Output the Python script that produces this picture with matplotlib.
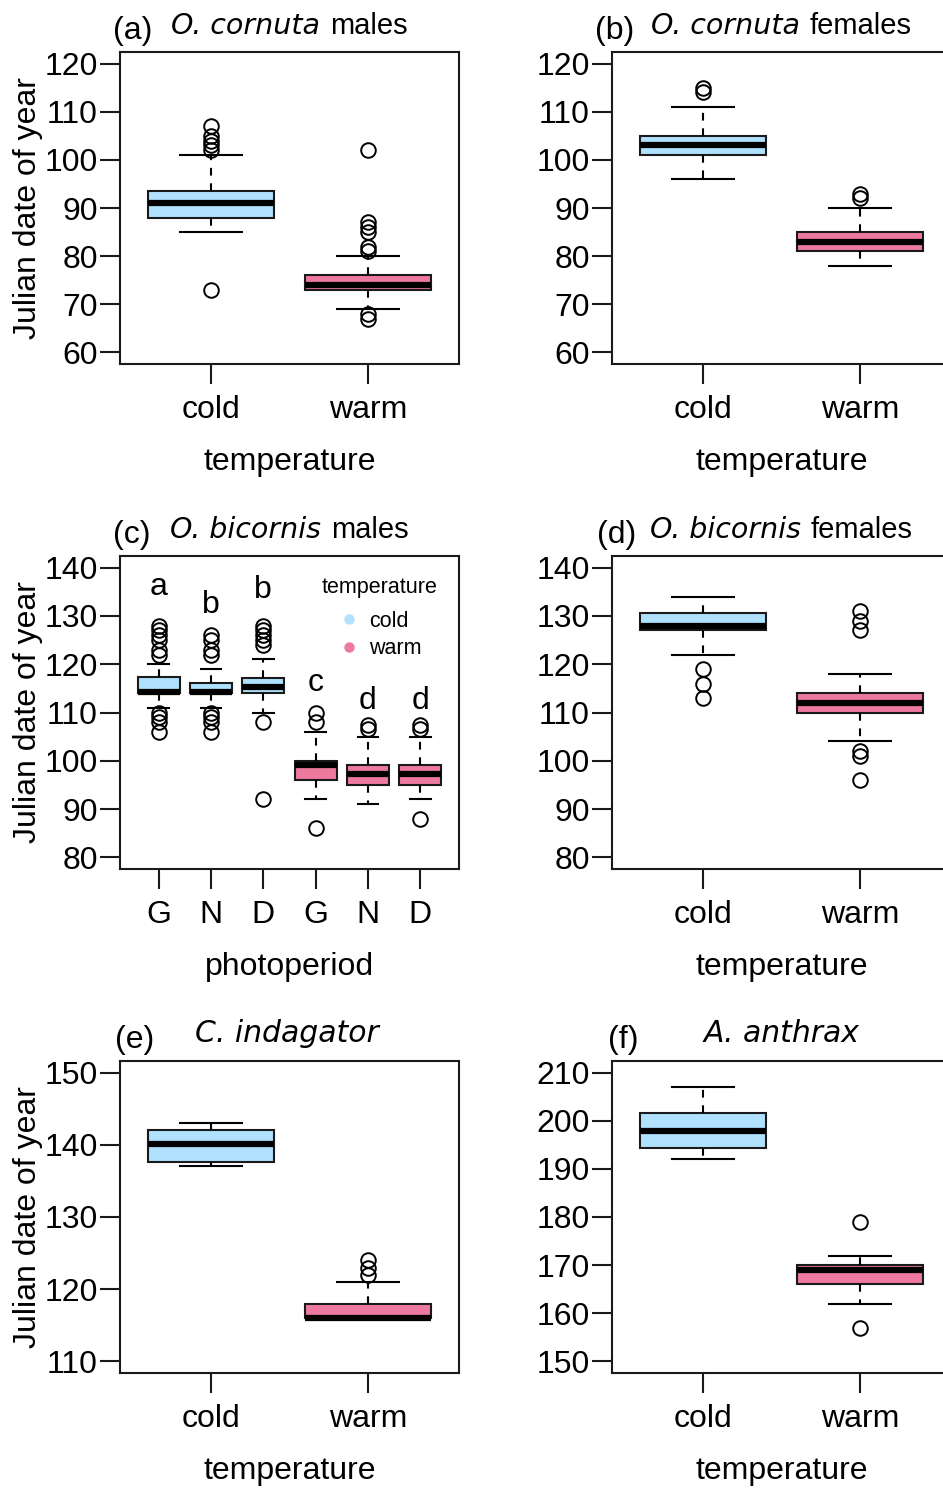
import matplotlib
matplotlib.use("Agg")
import matplotlib.pyplot as plt
from matplotlib.lines import Line2D

plt.rcParams['font.family'] = ['Liberation Sans', 'DejaVu Sans']

# ---------------- data ----------------
temp_labels = ["cold", "warm"]
photo_labels = ["G", "N", "D", "G", "N", "D"]

# (a) O. cornuta males
a_q1 = [88, 73];      a_med = [91, 74];      a_q3 = [93.5, 76]
a_lo = [85, 69];      a_hi = [101, 80]
a_fliers = [[107, 105, 104, 103, 102, 73], [102, 87, 86, 85, 82, 81, 68, 67]]

# (b) O. cornuta females
b_q1 = [101, 81];     b_med = [103, 83];     b_q3 = [105, 85]
b_lo = [96, 78];      b_hi = [111, 90]
b_fliers = [[115, 114], [93, 92]]

# (c) O. bicornis males, by photoperiod (3 cold then 3 warm)
c_q1 = [114, 114, 114, 96, 95, 95]
c_med = [114.3, 114.3, 115.2, 99.2, 97.2, 97.2]
c_q3 = [117.3, 116.1, 117.2, 100, 99.1, 99.1]
c_lo = [111, 111, 110, 92, 91, 92]
c_hi = [120, 119, 121, 106, 105, 105]
c_fliers = [[128, 127, 126, 125, 123, 122, 110, 109, 108, 106],
            [126, 125, 123, 122, 110, 109, 108, 106],
            [128, 127, 126, 125, 124, 108, 92],
            [110, 108, 86],
            [107.5, 106.5],
            [107.5, 106.5, 88]]
c_letters = ["a", "b", "b", "c", "d", "d"]
c_letter_y = [134.4, 130.6, 133.7, 114.4, 110.8, 110.8]
c_groups = ["cold", "cold", "cold", "warm", "warm", "warm"]

# (d) O. bicornis females
d_q1 = [127, 110];    d_med = [128, 112];    d_q3 = [130.5, 114]
d_lo = [122, 104];    d_hi = [134, 118]
d_fliers = [[119, 116, 113], [131, 129, 127, 102, 101, 96]]

# (e) C. indagator
e_q1 = [137.6, 116];  e_med = [140.1, 116];  e_q3 = [142.1, 118]
e_lo = [137, 116];    e_hi = [143, 121]
e_fliers = [[], [124, 123, 122]]

# (f) A. anthrax
f_q1 = [194.3, 166];  f_med = [197.9, 169];  f_q3 = [201.5, 170]
f_lo = [192, 162];    f_hi = [207, 172]
f_fliers = [[], [179, 157]]

COLORS = {"cold": "#B0E2FF", "warm": "#EE799F"}

# ---------------- layout ----------------
W, H = 943, 1488
DPI = 100
fig = plt.figure(figsize=(W / DPI, H / DPI), dpi=DPI)
fig.patch.set_facecolor("white")


def rect(left, top, right, bottom):
    return [left / W, 1 - bottom / H, (right - left) / W, (bottom - top) / H]


TICK_FS = 23
LAB_FS = 23


def make_stats(q1, med, q3, lo, hi, fl):
    return [dict(q1=q1[i], med=med[i], q3=q3[i], whislo=lo[i], whishi=hi[i],
                 fliers=fl[i]) for i in range(len(q1))]


def panel(r, stats, groups, xt_labels, ylim, yticks, xlabel, ylabel):
    ax = fig.add_axes(r)
    n = len(stats)
    pos = list(range(1, n + 1))
    bp = ax.bxp(stats, positions=pos, widths=0.8, capwidths=0.4,
                patch_artist=True, showfliers=True,
                boxprops=dict(linewidth=1.5, edgecolor="#1a1a1a"),
                medianprops=dict(color="black", linewidth=4.5, solid_capstyle="butt"),
                whiskerprops=dict(linestyle=(0, (3.7, 3.7)), linewidth=1.5, color="black"),
                capprops=dict(linewidth=1.5, color="black"),
                flierprops=dict(marker="o", markerfacecolor="none",
                                markeredgecolor="black", markersize=10.5,
                                markeredgewidth=1.4, linestyle="none"))
    for patch, g in zip(bp["boxes"], groups):
        patch.set_facecolor(COLORS[g])
    ext = 0.04 * n
    ax.set_xlim(0.5 - ext, n + 0.5 + ext)
    rng = ylim[1] - ylim[0]
    ax.set_ylim(ylim[0] - 0.04 * rng, ylim[1] + 0.04 * rng)
    ax.set_yticks(yticks)
    ax.set_xticks(pos)
    ax.set_xticklabels(xt_labels)
    for s in ax.spines.values():
        s.set_linewidth(1.5)
        s.set_color("#1a1a1a")
    ax.tick_params(axis="both", length=14.5, width=1.5, labelsize=TICK_FS,
                   direction="out", color="#1a1a1a")
    ax.tick_params(axis="y", pad=1.5)
    ax.tick_params(axis="x", pad=7.5)
    ax.set_xlabel(xlabel, fontsize=LAB_FS, labelpad=16)
    if ylabel:
        ax.set_ylabel(ylabel, fontsize=LAB_FS, labelpad=1)
    return ax


YL = "Julian date of year"
L = (120, 459)
R = (612, 951)
rows = [(52, 364), (556, 869), (1061, 1373)]

axa = panel(rect(L[0], rows[0][0], L[1], rows[0][1]),
            make_stats(a_q1, a_med, a_q3, a_lo, a_hi, a_fliers), temp_labels,
            temp_labels, (60, 120), range(60, 121, 10), "temperature", YL)
axb = panel(rect(R[0], rows[0][0], R[1], rows[0][1]),
            make_stats(b_q1, b_med, b_q3, b_lo, b_hi, b_fliers), temp_labels,
            temp_labels, (60, 120), range(60, 121, 10), "temperature", None)
axc = panel(rect(L[0], rows[1][0], L[1], rows[1][1]),
            make_stats(c_q1, c_med, c_q3, c_lo, c_hi, c_fliers), c_groups,
            photo_labels, (80, 140), range(80, 141, 10), "photoperiod", YL)
axd = panel(rect(R[0], rows[1][0], R[1], rows[1][1]),
            make_stats(d_q1, d_med, d_q3, d_lo, d_hi, d_fliers), temp_labels,
            temp_labels, (80, 140), range(80, 141, 10), "temperature", None)
axe = panel(rect(L[0], rows[2][0], L[1], rows[2][1]),
            make_stats(e_q1, e_med, e_q3, e_lo, e_hi, e_fliers), temp_labels,
            temp_labels, (110, 150), range(110, 151, 10), "temperature", YL)
axf = panel(rect(R[0], rows[2][0], R[1], rows[2][1]),
            make_stats(f_q1, f_med, f_q3, f_lo, f_hi, f_fliers), temp_labels,
            temp_labels, (150, 210), range(150, 211, 10), "temperature", None)

# significance letters in (c)
for i, (lt, yv) in enumerate(zip(c_letters, c_letter_y)):
    axc.text(i + 1, yv, lt, ha="center", va="baseline", fontsize=TICK_FS)

# legend in (c)
LEG_FS = 15.5
AW, AH = L[1] - L[0], rows[1][1] - rows[1][0]
axc.text((380 - L[0]) / AW, 1 - (587 - rows[1][0]) / AH, "temperature",
         transform=axc.transAxes, ha="center", va="center", fontsize=LEG_FS)
handles = [Line2D([], [], marker="o", linestyle="none", markersize=7.5,
                  markerfacecolor=COLORS[t], markeredgecolor="none") for t in temp_labels]
leg = axc.legend(handles, temp_labels, loc="upper left",
                 bbox_to_anchor=((338 - L[0]) / AW, 1 - (611 - rows[1][0]) / AH),
                 frameon=False, fontsize=LEG_FS, handlelength=1.0,
                 handletextpad=0.45, labelspacing=0.3, borderpad=0,
                 borderaxespad=0)

# titles
ITAL_FS = 20.5
REG_FS = 21
TAG_FS = 23


def fy(y):
    return 1 - y / H


titles = [
    (289.5, 33.5, "O. cornuta", " males", 113, 39, "(a)"),
    (781.5, 33.5, "O. cornuta", " females", 595, 39, "(b)"),
    (289.5, 537.5, "O. bicornis", " males", 113, 543, "(c)"),
    (781.5, 537.5, "O. bicornis", " females", 597, 543, "(d)"),
    (287.0, 1042, "C. indagator", "", 115, 1048, "(e)"),
    (781.5, 1042, "A. anthrax", "", 608, 1048, "(f)"),
]
renderer = fig.canvas.get_renderer()
for cx, ty, it, rg, gx, gy, gt in titles:
    fs_it = ITAL_FS if rg else 21.5
    t1 = fig.text(0, fy(ty), it, ha="left", va="baseline", fontsize=fs_it,
                  family="DejaVu Sans", style="italic")
    w1 = t1.get_window_extent(renderer).width
    w2 = 0.0
    t2 = None
    gap = 0.0
    if rg:
        t2 = fig.text(0, fy(ty), rg.strip(), ha="left", va="baseline", fontsize=REG_FS)
        w2 = t2.get_window_extent(renderer).width
        gap = 0.35 * REG_FS * DPI / 72.0
    x0 = cx - (w1 + gap + w2) / 2.0
    t1.set_x(x0 / W)
    if t2 is not None:
        t2.set_x((x0 + w1 + gap) / W)
    fig.text(gx / W, fy(gy), gt, ha="left", va="baseline", fontsize=TAG_FS)

fig.savefig("out.png", dpi=DPI, facecolor="white")
